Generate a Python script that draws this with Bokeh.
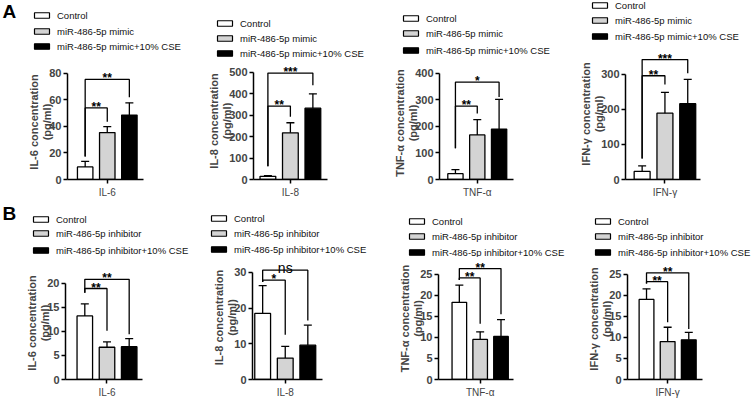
from bokeh.plotting import figure
from bokeh.layouts import column, row
from bokeh.models import (Range1d, FixedTicker, ColumnDataSource, Whisker, TeeHead, LinearAxis)
from bokeh.core.properties import value
from bokeh.embed import file_html
from bokeh.resources import INLINE

# ---------------- data ----------------
groups_a = ["Control", "miR-486-5p mimic", "miR-486-5p mimic+10% CSE"]
groups_b = ["Control", "miR-486-5p inhibitor", "miR-486-5p inhibitor+10% CSE"]
bar_colors = ["white", "#d4d4d4", "black"]
cytokines = ["IL-6", "IL-8", "TNF-α", "IFN-γ"]

# row A (mimic)
a_il6_mean = [9.5, 35.4, 48.6]
a_il6_sd = [4.2, 4.5, 9.2]
a_il8_mean = [15, 218, 333]
a_il8_sd = [3, 47, 67]
a_tnf_mean = [22, 168, 190]
a_tnf_sd = [15, 58, 112]
a_ifn_mean = [23, 188.5, 215.6]
a_ifn_sd = [15.6, 59.5, 69.4]

# row B (inhibitor)
b_il6_mean = [13.2, 6.7, 6.8]
b_il6_sd = [2.5, 1.1, 1.7]
b_il8_mean = [18.5, 6.0, 9.6]
b_il8_sd = [7.8, 3.3, 5.6]
b_tnf_mean = [18.3, 9.5, 10.2]
b_tnf_sd = [4.1, 1.8, 4.0]
b_ifn_mean = [19.0, 9.0, 9.4]
b_ifn_sd = [2.5, 3.4, 1.8]

# y axis ticks
a_il6_ticks = [0, 20, 40, 60, 80]
a_il8_ticks = [0, 100, 200, 300, 400, 500]
a_tnf_ticks = [0, 100, 200, 300, 400]
a_ifn_ticks = [0, 100, 200, 300]
b_il6_ticks = [0, 5, 10, 15, 20]
b_il8_ticks = [0, 10, 20, 30]
b_tnf_ticks = [0, 5, 10, 15, 20, 25]
b_ifn_ticks = [0, 5, 10, 15, 20, 25]

# significance brackets: (target group index, bracket height, left-leg end, right-leg end, text)
a_il6_sig = [(1, 54.0, 17.4, 43.6, "**"), (2, 75.5, 17.4, 62.0, "**")]
a_il8_sig = [(1, 343, 62, 293, "**"), (2, 497, 62, 440, "***")]
a_tnf_sig = [(1, 277, 118, 249, "**"), (2, 367, 118, 311, "*")]
a_ifn_sig = [(1, 295, 60, 270, "**"), (2, 341, 60, 302, "***")]
b_il6_sig = [(1, 18.9, 18.0, 10.1, "**"), (2, 20.8, 18.0, 9.4, "**")]
b_il8_sig = [(1, 27.8, 27.3, 12.5, "*"), (2, 30.6, 27.3, 16.5, "ns")]
b_tnf_sig = [(1, 24.1, 23.6, 13.2, "**"), (2, 26.3, 23.6, 15.5, "**")]
b_ifn_sig = [(1, 23.2, 22.8, 13.6, "**"), (2, 25.3, 22.8, 12.0, "**")]

# ---------------- layout (pixels) ----------------
COLS = {"A": [0, 186, 372, 560, 753], "B": [0, 191, 372, 568, 753]}
ROW_TOP = {"A": 0, "B": 200}
ROW_H = 200
FONT = "Liberation Sans"

# ax, fr, y0p, ytp, ft, x0, x1, legend box left, legend rows, split
LAY = {
    ("A", 0): (67, 143, 180, 73, 64, 0.2, 3.64, 34, (15, 31, 46), 58),
    ("A", 1): (253, 327, 180, 72, 62, 0.36, 3.65, 217, (23, 38, 53), 60),
    ("A", 2): (439, 513, 180, 73, 66, 0.27, 3.66, 403, (18, 33, 50), 60),
    ("A", 3): (625, 700, 181.5, 74, 48, 0.27, 3.56, 592, (5, 20, 36), 44),
    ("B", 0): (65, 142, 381, 283, 266, 0.13, 3.6, 33, (219, 233, 250), 259),
    ("B", 1): (252, 322, 380, 272, 255, 0.55, 3.65, 211, (218, 233, 249), 255),
    ("B", 2): (438, 513, 382, 274, 257, 0.0, 3.6, 409, (221, 236, 252), 257),
    ("B", 3): (627, 702, 382, 274, 258, 0.1, 3.65, 595, (221, 236, 252), 258),
}
LETTER_POS = {"A": (2, 11), "B": (2, 213)}


def legend_fig(rowkey, col, groups, letter=None):
    lay = LAY[(rowkey, col)]
    lgx, rows_y, split = lay[7], lay[8], lay[9]
    cs, rs = COLS[rowkey][col], ROW_TOP[rowkey]
    W = COLS[rowkey][col + 1] - cs
    Lh = split - rs
    p = figure(width=W, height=Lh, x_range=Range1d(0, W), y_range=Range1d(Lh, 0),
               output_backend="svg", toolbar_location=None, min_border=0,
               x_axis_type=None, y_axis_type=None, frame_align=False)
    p.outline_line_color = None
    ys = [y - rs for y in rows_y]
    p.rect(x=[lgx - cs + 7.5] * 3, y=ys, width=15, height=5.5, fill_color=bar_colors,
           line_color="black", line_width=1.2)
    p.text(x=[lgx - cs + 22.5] * 3, y=ys, text=groups, text_baseline="middle",
           text_font=value(FONT), text_font_size="9.5px", text_color="#111111")
    if letter:
        lx, ly = LETTER_POS[rowkey]
        p.text(x=[lx], y=[ly - rs], text=[letter], text_baseline="middle",
               text_font=value(FONT), text_font_size="19px", text_font_style="bold")
    return p


def panel(rowkey, col, name, means, sds, ticks, sigs, groups):
    ax, fr, y0p, ytp, ft, x0, x1, lgx, rows_y, split = LAY[(rowkey, col)]
    cs, rs = COLS[rowkey][col], ROW_TOP[rowkey]
    W = COLS[rowkey][col + 1] - cs
    H = ROW_H - (split - rs)
    left = round(ax - cs)
    fw = round(fr - ax)
    right = W - left - fw
    top = round(ft - split)
    bottom = round(rs + ROW_H - y0p)
    ymax = ticks[-1]
    yend = ymax * (y0p - ft) / (y0p - ytp)

    p = figure(width=W, height=H, x_range=Range1d(x0, x1), y_range=Range1d(0, yend),
               output_backend="svg", toolbar_location=None, frame_align=False,
               min_border_left=left, min_border_right=right,
               min_border_top=top, min_border_bottom=bottom)
    p.outline_line_color = None
    p.xgrid.visible = False
    p.ygrid.visible = False

    xpos = [i + 1 for i in range(len(groups))]
    src = ColumnDataSource(dict(x=xpos, top=means,
                                up=[m + s for m, s in zip(means, sds)],
                                color=bar_colors))
    p.vbar(x="x", top="top", bottom=0, width=0.7, fill_color="color",
           line_color="black", line_width=1.3, source=src)
    p.add_layout(Whisker(source=src, base="x", lower="top", upper="up",
                         upper_head=TeeHead(size=8, line_width=1.3, line_color="black"),
                         lower_head=None, line_width=1.3, line_color="black", level="glyph"))

    for (j, h, le, re, t) in sigs:
        xj = xpos[j]
        p.multi_line(xs=[[xpos[0], xpos[0], xj, xj]], ys=[[le, h, h, re]],
                     line_color="black", line_width=1.3)
        if t == "ns":
            p.text(x=[(xpos[0] + xj) / 2], y=[h], text=[t], text_align="center",
                   text_baseline="alphabetic", y_offset=-2,
                   text_font=value(FONT), text_font_size="14px")
        else:
            p.text(x=[(xpos[0] + xj) / 2], y=[h], text=[t], text_align="center",
                   text_baseline="alphabetic", y_offset=-1,
                   text_font=value(FONT), text_font_size="12px", text_font_style="bold")

    for a in (p.xaxis[0], p.yaxis[0]):
        a.axis_line_width = 1.5
        a.major_tick_line_width = 1.5
        a.major_tick_out = 4
        a.major_tick_in = 0
        a.minor_tick_line_color = None
        a.major_label_text_font = FONT
        a.axis_label_text_font = FONT
    p.xaxis.ticker = FixedTicker(ticks=[xpos[1]])
    p.xaxis.major_label_overrides = {xpos[1]: name}
    p.xaxis.major_label_text_font_size = "10px"
    p.xaxis.major_label_standoff = 3
    p.yaxis.ticker = FixedTicker(ticks=ticks)
    p.yaxis.bounds = (0, ymax)
    p.yaxis.major_label_text_font_size = "11px"
    p.yaxis.major_label_text_font_style = "bold"
    p.yaxis.major_label_standoff = 2
    # second title line, closest to the ticks
    p.yaxis.axis_label = "(pg/ml)"
    p.yaxis.axis_label_text_font_size = "11px"
    p.yaxis.axis_label_text_font_style = "bold"
    p.yaxis.axis_label_standoff = -7
    # first title line, on an outer axis without line or ticks
    outer = LinearAxis(ticker=FixedTicker(ticks=[]), bounds=(0, ymax),
                       axis_line_color=None, major_tick_line_color=None,
                       minor_tick_line_color=None, major_tick_out=0, minor_tick_out=0,
                       major_label_standoff=0,
                       axis_label=name + " concentration", axis_label_text_font=FONT,
                       axis_label_text_font_size="11px", axis_label_text_font_style="bold",
                       axis_label_standoff=-1)
    p.add_layout(outer, "left")
    return p


def cell(rowkey, col, name, means, sds, ticks, sigs, groups, letter=None):
    return column(legend_fig(rowkey, col, groups, letter),
                  panel(rowkey, col, name, means, sds, ticks, sigs, groups), spacing=0)


row_a = row(
    cell("A", 0, cytokines[0], a_il6_mean, a_il6_sd, a_il6_ticks, a_il6_sig, groups_a, "A"),
    cell("A", 1, cytokines[1], a_il8_mean, a_il8_sd, a_il8_ticks, a_il8_sig, groups_a),
    cell("A", 2, cytokines[2], a_tnf_mean, a_tnf_sd, a_tnf_ticks, a_tnf_sig, groups_a),
    cell("A", 3, cytokines[3], a_ifn_mean, a_ifn_sd, a_ifn_ticks, a_ifn_sig, groups_a),
    spacing=0)
row_b = row(
    cell("B", 0, cytokines[0], b_il6_mean, b_il6_sd, b_il6_ticks, b_il6_sig, groups_b, "B"),
    cell("B", 1, cytokines[1], b_il8_mean, b_il8_sd, b_il8_ticks, b_il8_sig, groups_b),
    cell("B", 2, cytokines[2], b_tnf_mean, b_tnf_sd, b_tnf_ticks, b_tnf_sig, groups_b),
    cell("B", 3, cytokines[3], b_ifn_mean, b_ifn_sd, b_ifn_ticks, b_ifn_sig, groups_b),
    spacing=0)

page = column(row_a, row_b, spacing=0)
open("out.html", "w").write(file_html(page, INLINE))
